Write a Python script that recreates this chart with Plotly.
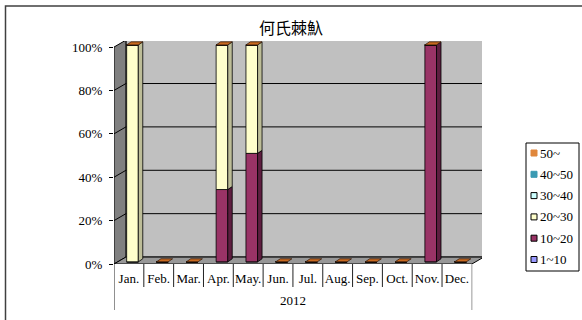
import plotly.graph_objects as go

# data (counts per month, from the 100% stacked chart)
months = ["Jan.", "Feb.", "Mar.", "Apr.", "May.", "Jun.", "Jul.", "Aug.", "Sep.", "Oct.", "Nov.", "Dec."]
year_label = "2012"
series_names = ["1~10", "10~20", "20~30", "30~40", "40~50", "50~"]
s_1_10 = [0, 0, 0, 0, 0, 0, 0, 0, 0, 0, 0, 0]
s_10_20 = [0, 0, 0, 1, 1, 0, 0, 0, 0, 0, 1, 0]
s_20_30 = [1, 0, 0, 2, 1, 0, 0, 0, 0, 0, 0, 0]
s_30_40 = [0, 0, 0, 0, 0, 0, 0, 0, 0, 0, 0, 0]
s_40_50 = [0, 0, 0, 0, 0, 0, 0, 0, 0, 0, 0, 0]
s_50 = [0, 0, 0, 0, 0, 0, 0, 0, 0, 0, 0, 0]
series_values = [s_1_10, s_10_20, s_20_30, s_30_40, s_40_50, s_50]

front_colors = ["#9999FF", "#993366", "#FFFFCC", "#CCFFFF", "#3A9AB2", "#E0873C"]
side_colors = ["#6666BB", "#5E1E40", "#BDBD98", "#99BFBF", "#26707F", "#A85F25"]
legend_border = [True, True, True, True, False, False]
CAP_COLOR = "#C8691F"

# pseudo-3D geometry (category units / percent units)
DX, DY = 0.40, 3.2
LIFT_X, LIFT_Y = 0.12, 1.0
BW = 0.39
SD, SDY = 0.15, 1.4
XMAX, YMAX = 12.34, 102.8

# plot area in pixels
L, R, T, B = 114, 482, 41, 264
W, H = 582, 320
SERIF = "Liberation Serif"


def px_x(p):
    return (p - L) / (R - L)


def px_y(p):
    return (B - p) / (B - T)


def path(pts):
    return "M " + " L ".join(f"{x},{y}" for x, y in pts) + " Z"


n = len(months)
totals = [sum(s[i] for s in series_values) for i in range(n)]
pcts = [[(s[i] / totals[i] * 100 if totals[i] else 0) for i in range(n)] for s in series_values]

fig = go.Figure()

cum = [0.0] * n
for k, name in enumerate(series_names):
    xs = [i + 0.5 + LIFT_X for i in range(n)]
    bases = [cum[i] + LIFT_Y for i in range(n)]
    fig.add_trace(go.Bar(
        x=xs, y=pcts[k], base=bases, width=BW, name=name,
        marker=dict(color=front_colors[k], line=dict(color="black", width=0.8)),
        hoverinfo="skip", showlegend=False,
    ))
    # side faces
    for i in range(n):
        if pcts[k][i] <= 0:
            continue
        xr = xs[i] + BW / 2
        b = bases[i]
        t = b + pcts[k][i]
        fig.add_trace(go.Scatter(
            x=[xr, xr + SD, xr + SD, xr, xr], y=[b, b + SDY, t + SDY, t, b],
            fill="toself", fillcolor=side_colors[k], mode="lines",
            line=dict(color="black", width=0.8), hoverinfo="skip", showlegend=False,
        ))
    cum = [cum[i] + pcts[k][i] for i in range(n)]

# top caps
for i in range(n):
    xc = i + 0.5 + LIFT_X
    xl, xr = xc - BW / 2, xc + BW / 2
    t = cum[i] + LIFT_Y
    fig.add_trace(go.Scatter(
        x=[xl, xr, xr + SD, xl + SD, xl], y=[t, t, t + SDY, t + SDY, t],
        fill="toself", fillcolor=CAP_COLOR, mode="lines",
        line=dict(color="#3a2010", width=0.8), hoverinfo="skip", showlegend=False,
    ))

shapes = []
# walls and floor
shapes.append(dict(type="rect", xref="x", yref="y", x0=DX, x1=n + DX, y0=DY, y1=100 + DY,
                   fillcolor="#C0C0C0", line=dict(color="black", width=1), layer="below"))
shapes.append(dict(type="path", xref="x", yref="y",
                   path=path([(0, 0), (DX, DY), (DX, 100 + DY), (0, 100)]),
                   fillcolor="#808080", line=dict(color="black", width=1), layer="below"))
shapes.append(dict(type="path", xref="x", yref="y",
                   path=path([(0, 0), (n, 0), (n + DX, DY), (DX, DY)]),
                   fillcolor="#979797", line=dict(color="black", width=1), layer="below"))
for v in [20, 40, 60, 80]:
    shapes.append(dict(type="line", xref="x", yref="y", x0=DX, x1=n + DX, y0=v + DY, y1=v + DY,
                       line=dict(color="black", width=1), layer="below"))
    shapes.append(dict(type="line", xref="x", yref="y", x0=0, x1=DX, y0=v, y1=v + DY,
                       line=dict(color="black", width=1), layer="below"))
# category separators
for i in range(n + 1):
    end = 310 if i in (0, n) else 287
    col = "#999999" if i == n else "#222222"
    shapes.append(dict(type="line", xref="x", yref="paper", x0=i, x1=i, y0=px_y(264), y1=px_y(end),
                       line=dict(color=col, width=1)))
# outer frame
shapes.append(dict(type="rect", xref="paper", yref="paper", x0=px_x(5.5), x1=px_x(700),
                   y0=px_y(400), y1=px_y(6), line=dict(color="#404040", width=1.5)))

# legend (manual, compact like the original)
annotations = [dict(text=year_label, x=n / 2, xref="x", y=px_y(300), yref="paper",
                    showarrow=False, font=dict(family=SERIF, size=13, color="black"), yanchor="middle")]
shapes.append(dict(type="rect", xref="paper", yref="paper", x0=px_x(526), x1=px_x(579),
                   y0=px_y(271), y1=px_y(143), line=dict(color="black", width=1), fillcolor="white"))
for j, k in enumerate(reversed(range(len(series_names)))):
    yc = 153 + 21.3 * j
    shapes.append(dict(type="rect", xref="paper", yref="paper", x0=px_x(531), x1=px_x(537),
                       y0=px_y(yc + 3), y1=px_y(yc - 3), fillcolor=front_colors[k],
                       line=dict(color="black" if legend_border[k] else front_colors[k], width=1)))
    annotations.append(dict(text=series_names[k], x=px_x(538), xref="paper", y=px_y(yc), yref="paper",
                            xanchor="left", yanchor="middle", showarrow=False,
                            font=dict(family=SERIF, size=13, color="black")))

fig.update_layout(
    width=W, height=H,
    margin=dict(l=L, r=W - R, t=T, b=H - B, pad=0, autoexpand=False),
    paper_bgcolor="white", plot_bgcolor="white",
    font=dict(family=SERIF, size=13, color="black"),
    title=dict(text="何氏棘魞", x=0.5, xref="container", xanchor="center",
               y=1 - 28 / H, yref="container", yanchor="middle",
               font=dict(family="Noto Sans CJK TC", size=16, color="black")),
    barmode="overlay", showlegend=False,
    shapes=shapes, annotations=annotations,
    xaxis=dict(range=[0, XMAX], showgrid=False, zeroline=False, showline=False,
               tickvals=[i + 0.5 for i in range(n)], ticktext=months, ticks="",
               ticklabelstandoff=5, tickfont=dict(family=SERIF, size=13)),
    yaxis=dict(range=[0, YMAX], showgrid=False, zeroline=False, showline=False,
               tickvals=[0, 20, 40, 60, 80, 100], ticktext=["0%", "20%", "40%", "60%", "80%", "100%"],
               ticks="outside", ticklen=4, tickcolor="black", ticklabelstandoff=4,
               tickfont=dict(family=SERIF, size=13)),
)

fig.write_html("out.html", config={"displayModeBar": False},
               post_script="document.body.style.margin='0';")
